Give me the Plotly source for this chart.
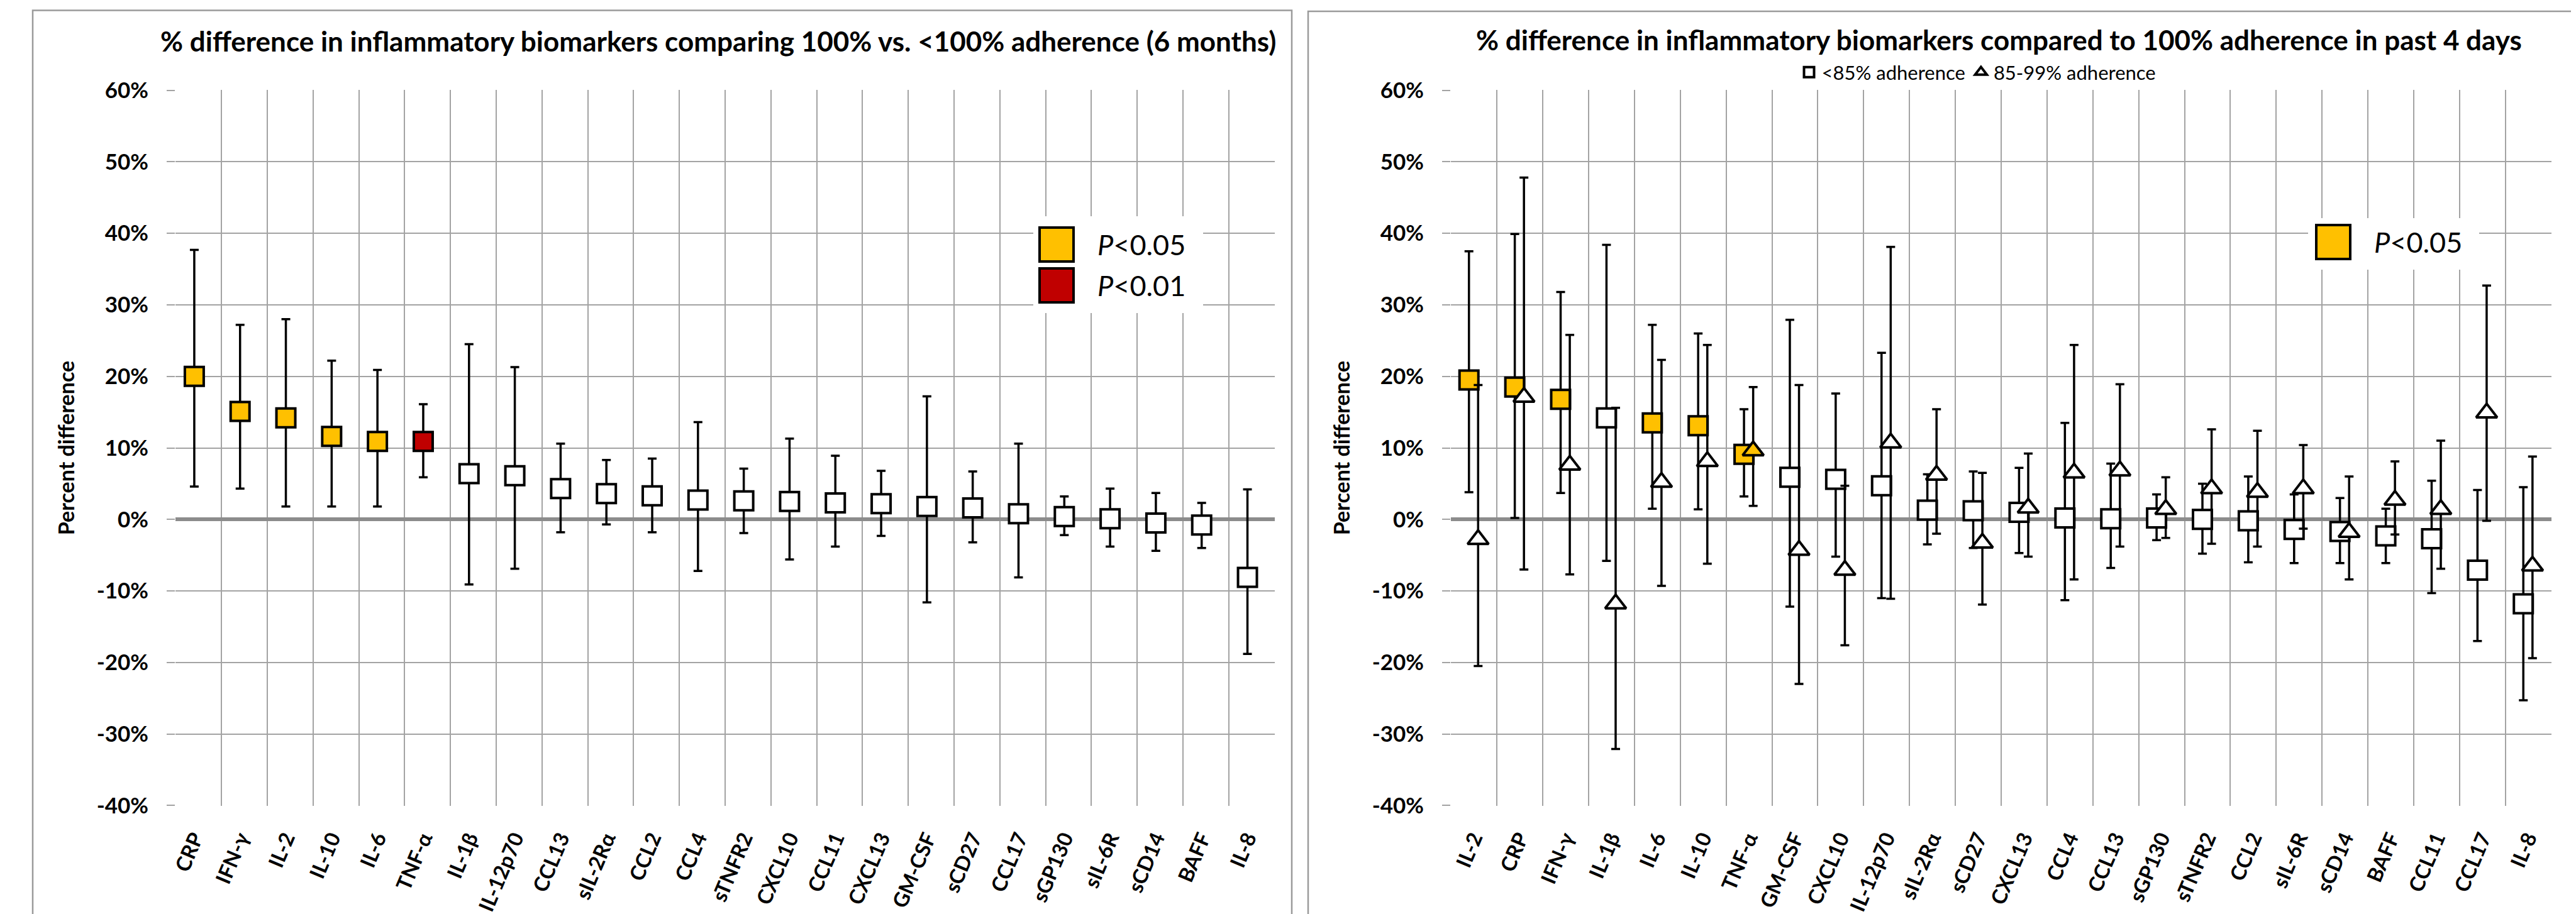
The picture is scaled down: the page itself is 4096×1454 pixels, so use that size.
import plotly.graph_objects as go

# ---------------- data: left panel (6 months) ----------------
left_categories = ["CRP", "IFN-γ", "IL-2", "IL-10", "IL-6", "TNF-α", "IL-1β", "IL-12p70",
                   "CCL13", "sIL-2Rα", "CCL2", "CCL4", "sTNFR2", "CXCL10", "CCL11", "CXCL13",
                   "GM-CSF", "sCD27", "CCL17", "sGP130", "sIL-6R", "sCD14", "BAFF", "IL-8"]
left_estimate = [20.0, 15.1, 14.2, 11.6, 10.9, 10.9, 6.4, 6.1, 4.3, 3.6, 3.3, 2.7,
                 2.6, 2.5, 2.3, 2.2, 1.8, 1.6, 0.8, 0.4, 0.1, -0.5, -0.8, -8.1]
left_upper = [37.7, 27.2, 28.0, 22.2, 20.9, 16.1, 24.5, 21.3, 10.6, 8.3, 8.5, 13.6,
              7.1, 11.3, 8.9, 6.8, 17.2, 6.7, 10.6, 3.2, 4.3, 3.7, 2.3, 4.2]
left_lower = [4.6, 4.3, 1.8, 1.8, 1.8, 5.9, -9.1, -6.9, -1.8, -0.7, -1.8, -7.2,
              -1.9, -5.6, -3.8, -2.3, -11.6, -3.2, -8.1, -2.2, -3.8, -4.4, -4.0, -18.8]
left_significance = ["p05", "p05", "p05", "p05", "p05", "p01", "ns", "ns", "ns", "ns", "ns", "ns",
                     "ns", "ns", "ns", "ns", "ns", "ns", "ns", "ns", "ns", "ns", "ns", "ns"]

# ---------------- data: right panel (past 4 days) ----------------
right_categories = ["IL-2", "CRP", "IFN-γ", "IL-1β", "IL-6", "IL-10", "TNF-α", "GM-CSF",
                    "CXCL10", "IL-12p70", "sIL-2Rα", "sCD27", "CXCL13", "CCL4", "CCL13", "sGP130",
                    "sTNFR2", "CCL2", "sIL-6R", "sCD14", "BAFF", "CCL11", "CCL17", "IL-8"]
lt85_estimate = [19.5, 18.5, 16.8, 14.2, 13.5, 13.1, 9.1, 5.9, 5.6, 4.7, 1.3, 1.2,
                 1.0, 0.2, 0.1, 0.2, 0.0, -0.2, -1.4, -1.7, -2.3, -2.7, -7.1, -11.8]
lt85_upper = [37.5, 39.9, 31.8, 38.4, 27.2, 26.0, 15.4, 27.9, 17.6, 23.3, 6.3, 6.7,
              7.2, 13.5, 7.8, 3.5, 5.0, 6.0, 3.5, 3.0, 1.5, 5.4, 4.1, 4.5]
lt85_lower = [3.8, 0.2, 3.7, -5.8, 1.5, 1.4, 3.2, -12.2, -5.2, -11.0, -3.5, -4.0,
              -4.7, -11.3, -6.8, -2.9, -4.8, -6.0, -6.1, -6.1, -6.1, -10.3, -17.0, -25.3]
lt85_significance = ["p05", "p05", "p05", "ns", "p05", "p05", "p05", "ns", "ns", "ns", "ns", "ns",
                     "ns", "ns", "ns", "ns", "ns", "ns", "ns", "ns", "ns", "ns", "ns", "ns"]
mid_estimate = [-2.8, 17.1, 7.6, -11.8, 5.2, 8.1, 9.6, -4.3, -7.1, 10.7, 6.2, -3.3,
                1.6, 6.5, 6.8, 1.4, 4.3, 3.8, 4.3, -1.8, 2.7, 1.4, 14.9, -6.5]
mid_upper = [18.8, 47.8, 25.8, 15.6, 22.3, 24.4, 18.5, 18.8, 4.7, 38.1, 15.4, 6.5,
             9.2, 24.4, 18.9, 5.9, 12.6, 12.4, 10.4, 6.0, 8.1, 11.0, 32.7, 8.8]
mid_lower = [-20.5, -7.0, -7.7, -32.1, -9.3, -6.2, 1.9, -23.0, -17.6, -11.1, -2.0, -11.9,
             -5.2, -8.4, -3.8, -2.6, -3.4, -3.8, -1.3, -8.4, -2.1, -6.9, -0.2, -19.4]
mid_significance = ["ns", "ns", "ns", "ns", "ns", "ns", "p05", "ns", "ns", "ns", "ns", "ns",
                    "ns", "ns", "ns", "ns", "ns", "ns", "ns", "ns", "ns", "ns", "ns", "ns"]

y_tick_values = [-40, -30, -20, -10, 0, 10, 20, 30, 40, 50, 60]
y_tick_labels = ["-40%", "-30%", "-20%", "-10%", "0%", "10%", "20%", "30%", "40%", "50%", "60%"]

# ---------------- styles ----------------
W, H = 4096, 1454
FONT = "Lato"
GRID = "#a3a3a3"
ZERO = "#8c8c8c"
FILL = {"ns": "white", "p05": "#FFC000", "p01": "#C00000"}
SQ_SIZE = 30
TRI_SIZE = 29
MLINE = 4


def px_x(v):
    return v / W


def px_y(v):
    return 1 - v / H


fig = go.Figure()


def add_series(x_pos, est, up, lo, sig, symbol, size, xa, ya, name=None, legend=None):
    for level in ["ns", "p05", "p01"]:
        idx = [i for i, s in enumerate(sig) if s == level]
        if not idx:
            continue
        fig.add_trace(go.Scatter(
            x=[x_pos[i] for i in idx],
            y=[est[i] for i in idx],
            mode="markers",
            marker=dict(symbol=symbol, size=size, color=FILL[level],
                        line=dict(color="black", width=MLINE)),
            error_y=dict(type="data", symmetric=False,
                         array=[up[i] - est[i] for i in idx],
                         arrayminus=[est[i] - lo[i] for i in idx],
                         color="black", thickness=3.5, width=7),
            name=name if name else level,
            showlegend=bool(name) and level == "ns",
            legend=legend if legend else "legend",
            xaxis=xa, yaxis=ya,
            hoverinfo="skip",
        ))


left_x = list(range(len(left_categories)))
right_x = list(range(len(right_categories)))
add_series(left_x, left_estimate, left_upper, left_lower, left_significance,
           "square", SQ_SIZE, "x", "y")
add_series([v - 0.1 for v in right_x], lt85_estimate, lt85_upper, lt85_lower, lt85_significance,
           "square", SQ_SIZE, "x2", "y2", name="&lt;85% adherence", legend="legend2")
add_series([v + 0.1 for v in right_x], mid_estimate, mid_upper, mid_lower, mid_significance,
           "triangle-up", TRI_SIZE, "x2", "y2", name="85-99% adherence", legend="legend2")

left_off = 0.407
right_off = 0.49
left_bounds = [k - left_off for k in range(len(left_categories) + 1)]
right_bounds = [k - right_off for k in range(len(right_categories) + 1)]

y_dom = [px_y(1274), px_y(135)]


def xaxis_cfg(domain, cats, bounds, anchor):
    return dict(
        domain=domain, anchor=anchor,
        range=[bounds[0] - 0.004, bounds[-1] + 0.004],
        tickmode="array", tickvals=list(range(len(cats))), ticktext=cats,
        tickangle=-67, ticks="", showgrid=False, zeroline=False, showline=False,
        tickfont=dict(family=FONT, size=33, color="black", weight="bold"),
        ticklabelstandoff=25,
        minor=dict(tickmode="array", tickvals=bounds, showgrid=True,
                   gridcolor=GRID, gridwidth=1.5, ticks=""),
        automargin=False, fixedrange=True,
    )


def yaxis_cfg(anchor):
    return dict(
        domain=y_dom, anchor=anchor, range=[-40.06, 60.06],
        tickmode="array", tickvals=y_tick_values, ticktext=y_tick_labels,
        showgrid=True, gridcolor=GRID, gridwidth=1.5,
        zeroline=True, zerolinecolor=ZERO, zerolinewidth=6,
        ticks="outside", ticklen=13, tickcolor=GRID, tickwidth=1.5,
        tickfont=dict(family=FONT, size=35, color="black", weight="bold"),
        ticklabelstandoff=22,
        title=dict(text="Percent difference",
                   font=dict(family=FONT, size=34, color="black", weight="bold"),
                   standoff=24),
        showline=False, automargin=False, fixedrange=True,
    )


fig.update_layout(
    width=W, height=H, autosize=False,
    margin=dict(l=0, r=0, t=0, b=0, pad=0),
    paper_bgcolor="white", plot_bgcolor="white",
    font=dict(family=FONT, color="black"),
    xaxis=xaxis_cfg([px_x(271), px_x(2019)], left_categories, left_bounds, "y"),
    yaxis=yaxis_cfg("x"),
    xaxis2=xaxis_cfg([px_x(2299), px_x(4049)], right_categories, right_bounds, "y2"),
    yaxis2=yaxis_cfg("x2"),
    showlegend=True,
    legend2=dict(orientation="h", x=px_x(3137), y=px_y(107), xanchor="center", yanchor="middle",
                 font=dict(family=FONT, size=31, color="black"),
                 bgcolor="rgba(0,0,0,0)", borderwidth=0, itemclick=False, itemdoubleclick=False),
)

# panel frames
fig.add_shape(type="rect", xref="paper", yref="paper",
              x0=px_x(44), x1=px_x(2046), y0=-0.02, y1=px_y(8.5),
              line=dict(color="#9a9a9a", width=2.5), fillcolor="rgba(0,0,0,0)", layer="above")
fig.add_shape(type="rect", xref="paper", yref="paper",
              x0=px_x(2072), x1=1.02, y0=-0.02, y1=px_y(10),
              line=dict(color="#9a9a9a", width=2.5), fillcolor="rgba(0,0,0,0)", layer="above")

# titles
fig.add_annotation(xref="paper", yref="paper", x=px_x(1134), y=px_y(57),
                   text="% difference in inflammatory biomarkers comparing 100% vs. &lt;100% adherence (6 months)",
                   showarrow=False, xanchor="center", yanchor="middle",
                   font=dict(family=FONT, size=44, color="black", weight="bold"))
fig.add_annotation(xref="paper", yref="paper", x=px_x(3170), y=px_y(55),
                   text="% difference in inflammatory biomarkers compared to 100% adherence in past 4 days",
                   showarrow=False, xanchor="center", yanchor="middle",
                   font=dict(family=FONT, size=44, color="black", weight="bold"))

# P-value keys (large swatches)
def p_key(box, rows):
    bx0, by0, bx1, by1 = box
    fig.add_shape(type="rect", xref="paper", yref="paper",
                  x0=px_x(bx0), x1=px_x(bx1), y0=px_y(by1), y1=px_y(by0),
                  line=dict(width=0), fillcolor="white", layer="above")
    for sx, cy, color, label in rows:
        fig.add_shape(type="rect", xref="paper", yref="paper",
                      x0=px_x(sx), x1=px_x(sx + 54), y0=px_y(cy + 27), y1=px_y(cy - 27),
                      line=dict(color="black", width=4), fillcolor=color, layer="above")
        fig.add_annotation(xref="paper", yref="paper", x=px_x(sx + 90), y=px_y(cy),
                           text=label, showarrow=False, xanchor="left", yanchor="middle",
                           font=dict(family=FONT, size=45, color="black"))


p_key((1635, 336, 1905, 490),
      [(1645, 381, FILL["p05"], "<i>P</i>&lt;0.05"),
       (1645, 446, FILL["p01"], "<i>P</i>&lt;0.01")])
p_key((3662, 339, 3934, 421),
      [(3675, 377, FILL["p05"], "<i>P</i>&lt;0.05")])

fig.write_html("out.html")
